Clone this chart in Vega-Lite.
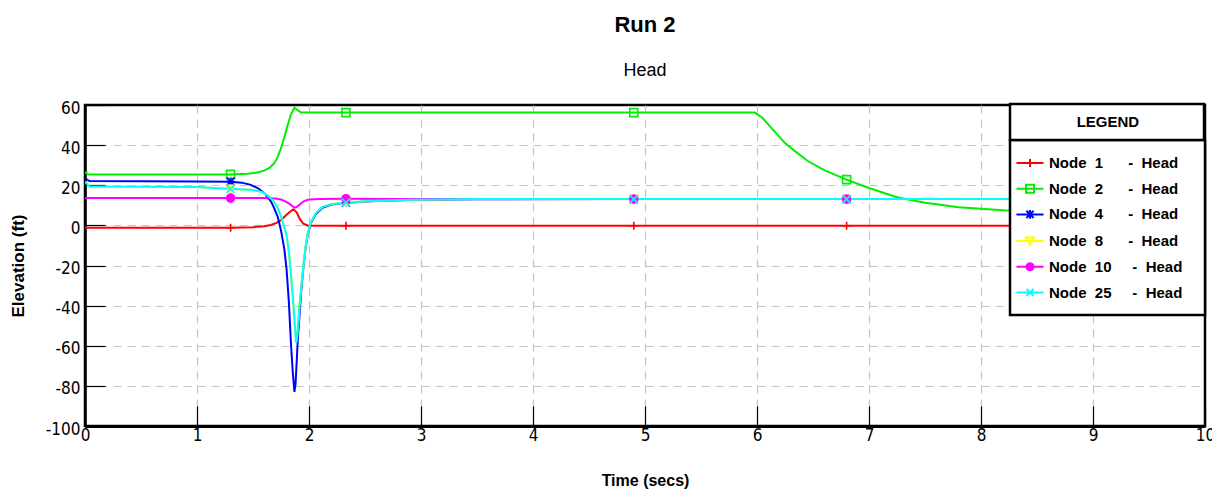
{
  "$schema": "https://vega.github.io/schema/vega-lite/v6.json",
  "width": 1120,
  "height": 321,
  "autosize": {"type": "none"},
  "padding": {"left": 85, "top": 105, "right": 7, "bottom": 71},
  "background": "white",
  "config": {
    "font": "Liberation Sans",
    "view": {"stroke": "black", "strokeWidth": 2.5}
  },
  "title": {
    "text": "Run 2",
    "subtitle": "Head",
    "anchor": "middle",
    "frame": "group",
    "baseline": "top",
    "font": "Liberation Sans",
    "fontSize": 22,
    "fontWeight": "bold",
    "color": "black",
    "subtitleFont": "Liberation Sans",
    "subtitleFontSize": 18,
    "subtitleFontWeight": "normal",
    "subtitleColor": "black",
    "subtitlePadding": 25,
    "offset": 18
  },
  "data": {
    "values": [
      {"series": "Node 1", "time": 0, "head": -1.2},
      {"series": "Node 1", "time": 0.5, "head": -1.2},
      {"series": "Node 1", "time": 1.0, "head": -1.2},
      {"series": "Node 1", "time": 1.3, "head": -1.2},
      {"series": "Node 1", "time": 1.5, "head": -0.9},
      {"series": "Node 1", "time": 1.6, "head": -0.4},
      {"series": "Node 1", "time": 1.66, "head": 0.2},
      {"series": "Node 1", "time": 1.71, "head": 1.2},
      {"series": "Node 1", "time": 1.75, "head": 2.6},
      {"series": "Node 1", "time": 1.79, "head": 4.8},
      {"series": "Node 1", "time": 1.83, "head": 6.8},
      {"series": "Node 1", "time": 1.86, "head": 8},
      {"series": "Node 1", "time": 1.89, "head": 6.5},
      {"series": "Node 1", "time": 1.92, "head": 3},
      {"series": "Node 1", "time": 1.95, "head": 0.8},
      {"series": "Node 1", "time": 1.99, "head": -0.2},
      {"series": "Node 1", "time": 2.33, "head": -0.2},
      {"series": "Node 1", "time": 4.9, "head": -0.2},
      {"series": "Node 1", "time": 6.8, "head": -0.2},
      {"series": "Node 1", "time": 10, "head": -0.2},

      {"series": "Node 2", "time": 0, "head": 26.5},
      {"series": "Node 2", "time": 0.03, "head": 25.4},
      {"series": "Node 2", "time": 1.3, "head": 25.4},
      {"series": "Node 2", "time": 1.45, "head": 25.7},
      {"series": "Node 2", "time": 1.53, "head": 26.2},
      {"series": "Node 2", "time": 1.6, "head": 27.3},
      {"series": "Node 2", "time": 1.65, "head": 28.8},
      {"series": "Node 2", "time": 1.69, "head": 31},
      {"series": "Node 2", "time": 1.72, "head": 34},
      {"series": "Node 2", "time": 1.75, "head": 38.5},
      {"series": "Node 2", "time": 1.78, "head": 44},
      {"series": "Node 2", "time": 1.81, "head": 50},
      {"series": "Node 2", "time": 1.84, "head": 55.5},
      {"series": "Node 2", "time": 1.87, "head": 58.6},
      {"series": "Node 2", "time": 1.9, "head": 57.4},
      {"series": "Node 2", "time": 1.93, "head": 56.2},
      {"series": "Node 2", "time": 2.33, "head": 56.2},
      {"series": "Node 2", "time": 4.9, "head": 56.2},
      {"series": "Node 2", "time": 5.98, "head": 56.2},
      {"series": "Node 2", "time": 6.05, "head": 53.5},
      {"series": "Node 2", "time": 6.1, "head": 50.3},
      {"series": "Node 2", "time": 6.17, "head": 46},
      {"series": "Node 2", "time": 6.25, "head": 41},
      {"series": "Node 2", "time": 6.35, "head": 36.5},
      {"series": "Node 2", "time": 6.45, "head": 32.2},
      {"series": "Node 2", "time": 6.6, "head": 27.5},
      {"series": "Node 2", "time": 6.8, "head": 22.8},
      {"series": "Node 2", "time": 7.0, "head": 18.6},
      {"series": "Node 2", "time": 7.25, "head": 14},
      {"series": "Node 2", "time": 7.5, "head": 11.3},
      {"series": "Node 2", "time": 7.8, "head": 9},
      {"series": "Node 2", "time": 8.2, "head": 7.5},
      {"series": "Node 2", "time": 8.6, "head": 6.7},
      {"series": "Node 2", "time": 9.1, "head": 6},
      {"series": "Node 2", "time": 9.6, "head": 5.6},
      {"series": "Node 2", "time": 10, "head": 5.3},

      {"series": "Node 4", "time": 0, "head": 23.5},
      {"series": "Node 4", "time": 0.04, "head": 22.1},
      {"series": "Node 4", "time": 1.0, "head": 21.9},
      {"series": "Node 4", "time": 1.3, "head": 21.8},
      {"series": "Node 4", "time": 1.4, "head": 21.3},
      {"series": "Node 4", "time": 1.48, "head": 20.2},
      {"series": "Node 4", "time": 1.55, "head": 18.3},
      {"series": "Node 4", "time": 1.61, "head": 15.5},
      {"series": "Node 4", "time": 1.66, "head": 12},
      {"series": "Node 4", "time": 1.69, "head": 8.5},
      {"series": "Node 4", "time": 1.72, "head": 4.4},
      {"series": "Node 4", "time": 1.75, "head": -2.5},
      {"series": "Node 4", "time": 1.78, "head": -12},
      {"series": "Node 4", "time": 1.8, "head": -22},
      {"series": "Node 4", "time": 1.82, "head": -38},
      {"series": "Node 4", "time": 1.84, "head": -60},
      {"series": "Node 4", "time": 1.855, "head": -73},
      {"series": "Node 4", "time": 1.87, "head": -83},
      {"series": "Node 4", "time": 1.88, "head": -79},
      {"series": "Node 4", "time": 1.89, "head": -68},
      {"series": "Node 4", "time": 1.9, "head": -57},
      {"series": "Node 4", "time": 1.915, "head": -45},
      {"series": "Node 4", "time": 1.93, "head": -33},
      {"series": "Node 4", "time": 1.95, "head": -21},
      {"series": "Node 4", "time": 1.97, "head": -11},
      {"series": "Node 4", "time": 1.99, "head": -4},
      {"series": "Node 4", "time": 2.02, "head": 1.5},
      {"series": "Node 4", "time": 2.06, "head": 5.5},
      {"series": "Node 4", "time": 2.12, "head": 8.8},
      {"series": "Node 4", "time": 2.2, "head": 10.4},
      {"series": "Node 4", "time": 2.33, "head": 11.3},
      {"series": "Node 4", "time": 2.6, "head": 12.2},
      {"series": "Node 4", "time": 2.9, "head": 12.7},
      {"series": "Node 4", "time": 3.5, "head": 13},
      {"series": "Node 4", "time": 4.9, "head": 13.1},
      {"series": "Node 4", "time": 6.8, "head": 13.1},
      {"series": "Node 4", "time": 10, "head": 13.1},

      {"series": "Node 8", "time": 0, "head": 21.8},
      {"series": "Node 8", "time": 0.04, "head": 19.4},
      {"series": "Node 8", "time": 1.0, "head": 19.1},
      {"series": "Node 8", "time": 1.2, "head": 18.5},
      {"series": "Node 8", "time": 1.3, "head": 18.2},
      {"series": "Node 8", "time": 1.5, "head": 17.6},
      {"series": "Node 8", "time": 1.58, "head": 16.6},
      {"series": "Node 8", "time": 1.63, "head": 15},
      {"series": "Node 8", "time": 1.68, "head": 12.5},
      {"series": "Node 8", "time": 1.72, "head": 8.8},
      {"series": "Node 8", "time": 1.75, "head": 4.5},
      {"series": "Node 8", "time": 1.78, "head": -1},
      {"series": "Node 8", "time": 1.8, "head": -5},
      {"series": "Node 8", "time": 1.82, "head": -13},
      {"series": "Node 8", "time": 1.84, "head": -25},
      {"series": "Node 8", "time": 1.86, "head": -39},
      {"series": "Node 8", "time": 1.875, "head": -51},
      {"series": "Node 8", "time": 1.885, "head": -58.5},
      {"series": "Node 8", "time": 1.895, "head": -55},
      {"series": "Node 8", "time": 1.905, "head": -48},
      {"series": "Node 8", "time": 1.915, "head": -40},
      {"series": "Node 8", "time": 1.93, "head": -31},
      {"series": "Node 8", "time": 1.95, "head": -20},
      {"series": "Node 8", "time": 1.97, "head": -10.5},
      {"series": "Node 8", "time": 1.99, "head": -3.5},
      {"series": "Node 8", "time": 2.02, "head": 2},
      {"series": "Node 8", "time": 2.06, "head": 6},
      {"series": "Node 8", "time": 2.12, "head": 9.2},
      {"series": "Node 8", "time": 2.2, "head": 10.6},
      {"series": "Node 8", "time": 2.33, "head": 11.4},
      {"series": "Node 8", "time": 2.6, "head": 12.3},
      {"series": "Node 8", "time": 2.9, "head": 12.8},
      {"series": "Node 8", "time": 3.5, "head": 13.1},
      {"series": "Node 8", "time": 4.9, "head": 13.1},
      {"series": "Node 8", "time": 6.8, "head": 13.1},
      {"series": "Node 8", "time": 10, "head": 13.1},

      {"series": "Node 10", "time": 0, "head": 13.6},
      {"series": "Node 10", "time": 1.0, "head": 13.6},
      {"series": "Node 10", "time": 1.3, "head": 13.6},
      {"series": "Node 10", "time": 1.6, "head": 13.6},
      {"series": "Node 10", "time": 1.7, "head": 13.4},
      {"series": "Node 10", "time": 1.75, "head": 12.9},
      {"series": "Node 10", "time": 1.79, "head": 12},
      {"series": "Node 10", "time": 1.83, "head": 10.6},
      {"series": "Node 10", "time": 1.86, "head": 9.2},
      {"series": "Node 10", "time": 1.88, "head": 8.8},
      {"series": "Node 10", "time": 1.9, "head": 9.6},
      {"series": "Node 10", "time": 1.93, "head": 11},
      {"series": "Node 10", "time": 1.96, "head": 12.2},
      {"series": "Node 10", "time": 2.0, "head": 12.9},
      {"series": "Node 10", "time": 2.1, "head": 13.2},
      {"series": "Node 10", "time": 2.33, "head": 13.3},
      {"series": "Node 10", "time": 2.8, "head": 13.2},
      {"series": "Node 10", "time": 4.9, "head": 13.1},
      {"series": "Node 10", "time": 6.8, "head": 13.1},
      {"series": "Node 10", "time": 10, "head": 13.1},

      {"series": "Node 25", "time": 0, "head": 21.8},
      {"series": "Node 25", "time": 0.04, "head": 19.4},
      {"series": "Node 25", "time": 1.0, "head": 19.1},
      {"series": "Node 25", "time": 1.2, "head": 18.5},
      {"series": "Node 25", "time": 1.3, "head": 18.2},
      {"series": "Node 25", "time": 1.5, "head": 17.6},
      {"series": "Node 25", "time": 1.58, "head": 16.6},
      {"series": "Node 25", "time": 1.63, "head": 15},
      {"series": "Node 25", "time": 1.68, "head": 12.5},
      {"series": "Node 25", "time": 1.72, "head": 8.8},
      {"series": "Node 25", "time": 1.75, "head": 4.5},
      {"series": "Node 25", "time": 1.78, "head": -1},
      {"series": "Node 25", "time": 1.8, "head": -5},
      {"series": "Node 25", "time": 1.82, "head": -13},
      {"series": "Node 25", "time": 1.84, "head": -25},
      {"series": "Node 25", "time": 1.86, "head": -39},
      {"series": "Node 25", "time": 1.875, "head": -51},
      {"series": "Node 25", "time": 1.885, "head": -58.5},
      {"series": "Node 25", "time": 1.895, "head": -55},
      {"series": "Node 25", "time": 1.905, "head": -48},
      {"series": "Node 25", "time": 1.915, "head": -40},
      {"series": "Node 25", "time": 1.93, "head": -31},
      {"series": "Node 25", "time": 1.95, "head": -20},
      {"series": "Node 25", "time": 1.97, "head": -10.5},
      {"series": "Node 25", "time": 1.99, "head": -3.5},
      {"series": "Node 25", "time": 2.02, "head": 2},
      {"series": "Node 25", "time": 2.06, "head": 6},
      {"series": "Node 25", "time": 2.12, "head": 9.2},
      {"series": "Node 25", "time": 2.2, "head": 10.6},
      {"series": "Node 25", "time": 2.33, "head": 11.4},
      {"series": "Node 25", "time": 2.6, "head": 12.3},
      {"series": "Node 25", "time": 2.9, "head": 12.8},
      {"series": "Node 25", "time": 3.5, "head": 13.1},
      {"series": "Node 25", "time": 4.9, "head": 13.1},
      {"series": "Node 25", "time": 6.8, "head": 13.1},
      {"series": "Node 25", "time": 10, "head": 13.1}
    ]
  },
  "encoding": {
    "x": {
      "field": "time",
      "type": "quantitative",
      "scale": {"domain": [0, 10], "nice": false, "zero": false},
      "axis": {
        "values": [0, 1, 2, 3, 4, 5, 6, 7, 8, 9, 10],
        "title": "Time (secs)",
        "titleFont": "Liberation Sans",
        "titleFontSize": 16,
        "titleFontWeight": "bold",
        "titleColor": "black",
        "titleX": 560,
        "titleY": 54,
        "titleBaseline": "middle",
        "titleAlign": "center",
        "labelFont": "Liberation Sans Narrow, DejaVu Sans Condensed, sans-serif",
        "labelFontSize": 17,
        "labelColor": "black",
        "labelPadding": 21,
        "labelFlush": false,
        "labelOverlap": false,
        "tickSize": -20,
        "tickColor": "black",
        "tickWidth": 1.2,
        "domain": true,
        "domainColor": "black",
        "domainWidth": 3,
        "grid": true,
        "gridColor": "#c4c4c4",
        "gridDash": [8, 6],
        "gridWidth": 1.2,
        "gridOpacity": {"condition": {"test": "datum.value <= 0 || datum.value >= 10", "value": 0}, "value": 1}
      }
    },
    "y": {
      "field": "head",
      "type": "quantitative",
      "scale": {"domain": [-100, 60], "nice": false, "zero": false},
      "axis": {
        "values": [-100, -80, -60, -40, -20, 0, 20, 40, 60],
        "labelExpr": "datum.value < 0 ? '-' + abs(datum.value) : '' + datum.value",
        "title": "Elevation (ft)",
        "titleFont": "Liberation Sans",
        "titleFontSize": 17,
        "titleFontWeight": "bold",
        "titleColor": "black",
        "titleX": -67,
        "titleY": 160.5,
        "titleAngle": -90,
        "titleBaseline": "middle",
        "titleAlign": "center",
        "labelFont": "Liberation Sans Narrow, DejaVu Sans Condensed, sans-serif",
        "labelFontSize": 17,
        "labelColor": "black",
        "labelPadding": 25,
        "labelOffset": 3,
        "labelFlush": false,
        "labelOverlap": false,
        "tickSize": -20,
        "tickColor": "black",
        "tickWidth": 1.2,
        "domain": true,
        "domainColor": "black",
        "domainWidth": 2.5,
        "grid": true,
        "gridColor": "#c4c4c4",
        "gridDash": [8, 6],
        "gridWidth": 1.2,
        "gridOpacity": {"condition": {"test": "datum.value <= -100 || datum.value >= 60", "value": 0}, "value": 1}
      }
    },
    "color": {
      "field": "series",
      "type": "nominal",
      "scale": {
        "domain": ["Node 1", "Node 2", "Node 4", "Node 8", "Node 10", "Node 25"],
        "range": ["#ff0000", "#00ee00", "#0000ff", "#ffff00", "#ff00ff", "#00ffff"]
      },
      "legend": {
        "orient": "none",
        "legendX": 925,
        "legendY": 35,
        "title": null,
        "padding": 14,
        "fillColor": "white",
        "strokeColor": "black",
        "symbolSize": 256,
        "symbolOffset": -3,
        "symbolStrokeWidth": 2,
        "labelFont": "Liberation Sans",
        "labelFontSize": 15,
        "labelFontWeight": "bold",
        "labelColor": "black",
        "labelOffset": 10,
        "labelLimit": 0,
        "rowPadding": 8.7,
        "labelExpr": "'Node\u00a0\u00a0' + substring(datum.label, 5) + (length(datum.label) > 6 ? '\u00a0\u00a0\u00a0\u00a0\u00a0' : '\u00a0\u00a0\u00a0\u00a0\u00a0\u00a0') + '-\u00a0\u00a0Head\u00a0\u00a0\u200b'",
        "encoding": {
          "legend": {"strokeWidth": {"value": 2.5}},
          "symbols": {
            "shape": {
              "condition": [
                {"test": "datum.value === 'Node 1'", "value": "M-1.69,0H1.69M0,-0.5V0.5"},
                {"test": "datum.value === 'Node 2'", "value": "M-1.69,0H1.69M-0.5,-0.5H0.5V0.5H-0.5Z"},
                {"test": "datum.value === 'Node 4'", "value": "M-1.69,0H1.69M-0.45,-0.45L0.45,0.45M-0.45,0.45L0.45,-0.45M0,-0.55V0.55"},
                {"test": "datum.value === 'Node 8'", "value": "M-1.69,0H1.69M-0.55,-0.45H0.55L0,0.5Z"},
                {"test": "datum.value === 'Node 10'", "value": "M-1.69,0H1.69M0.44,0A0.44,0.44 0 1,1 -0.44,0A0.44,0.44 0 1,1 0.44,0Z"}
              ],
              "value": "M-1.69,0H1.69M-0.45,-0.45L0.45,0.45M-0.45,0.45L0.45,-0.45"
            },
            "fill": {
              "condition": {"test": "datum.value === 'Node 10'", "value": "#ff00ff"},
              "value": "transparent"
            },
            "strokeWidth": {"value": 2}
          }
        }
      }
    }
  },
  "layer": [
    {
      "mark": {"type": "line", "strokeWidth": 2, "clip": true}
    },
    {
      "transform": [{"filter": {"field": "time", "oneOf": [1.3, 2.33, 4.9, 6.8]}}],
      "mark": {"type": "point", "filled": false, "size": 64, "strokeWidth": 1.6},
      "encoding": {
        "shape": {
          "field": "series",
          "type": "nominal",
          "scale": {
            "domain": ["Node 25", "Node 10", "Node 8", "Node 4", "Node 2", "Node 1"],
            "range": ["M-1,-1L1,1M-1,1L1,-1", "circle", "triangle-down", "M-1,-1L1,1M-1,1L1,-1M-1,0H1M0,-1V1", "square", "M-1,0H1M0,-1V1"]
          },
          "legend": null
        },
        "fill": {
          "condition": {"test": "datum.series === 'Node 10'", "value": "#ff00ff"},
          "value": "transparent"
        },
        "opacity": {
          "datum": "\u200b\u00a0\u00a0\u00a0\u00a0\u00a0\u00a0\u00a0\u00a0\u00a0\u00a0LEGEND\u00a0\u00a0\u00a0\u00a0\u00a0\u00a0\u00a0\u00a0\u00a0\u00a0\u00a0\u00a0\u00a0\u200b",
          "type": "nominal",
          "scale": {"type": "ordinal", "range": [1]},
          "legend": {
            "orient": "none",
            "legendX": 925,
            "legendY": -1,
            "title": null,
            "padding": 10,
            "fillColor": "white",
            "strokeColor": "black",
            "symbolSize": 0,
            "symbolOpacity": 0,
            "symbolStrokeWidth": 0,
            "labelOffset": 0,
            "labelLimit": 0,
            "labelFont": "Liberation Sans",
            "labelFontSize": 15,
            "labelFontWeight": "bold",
            "labelColor": "black",
            "encoding": {
              "legend": {"strokeWidth": {"value": 2.5}}
            }
          }
        }
      }
    }
  ]
}
